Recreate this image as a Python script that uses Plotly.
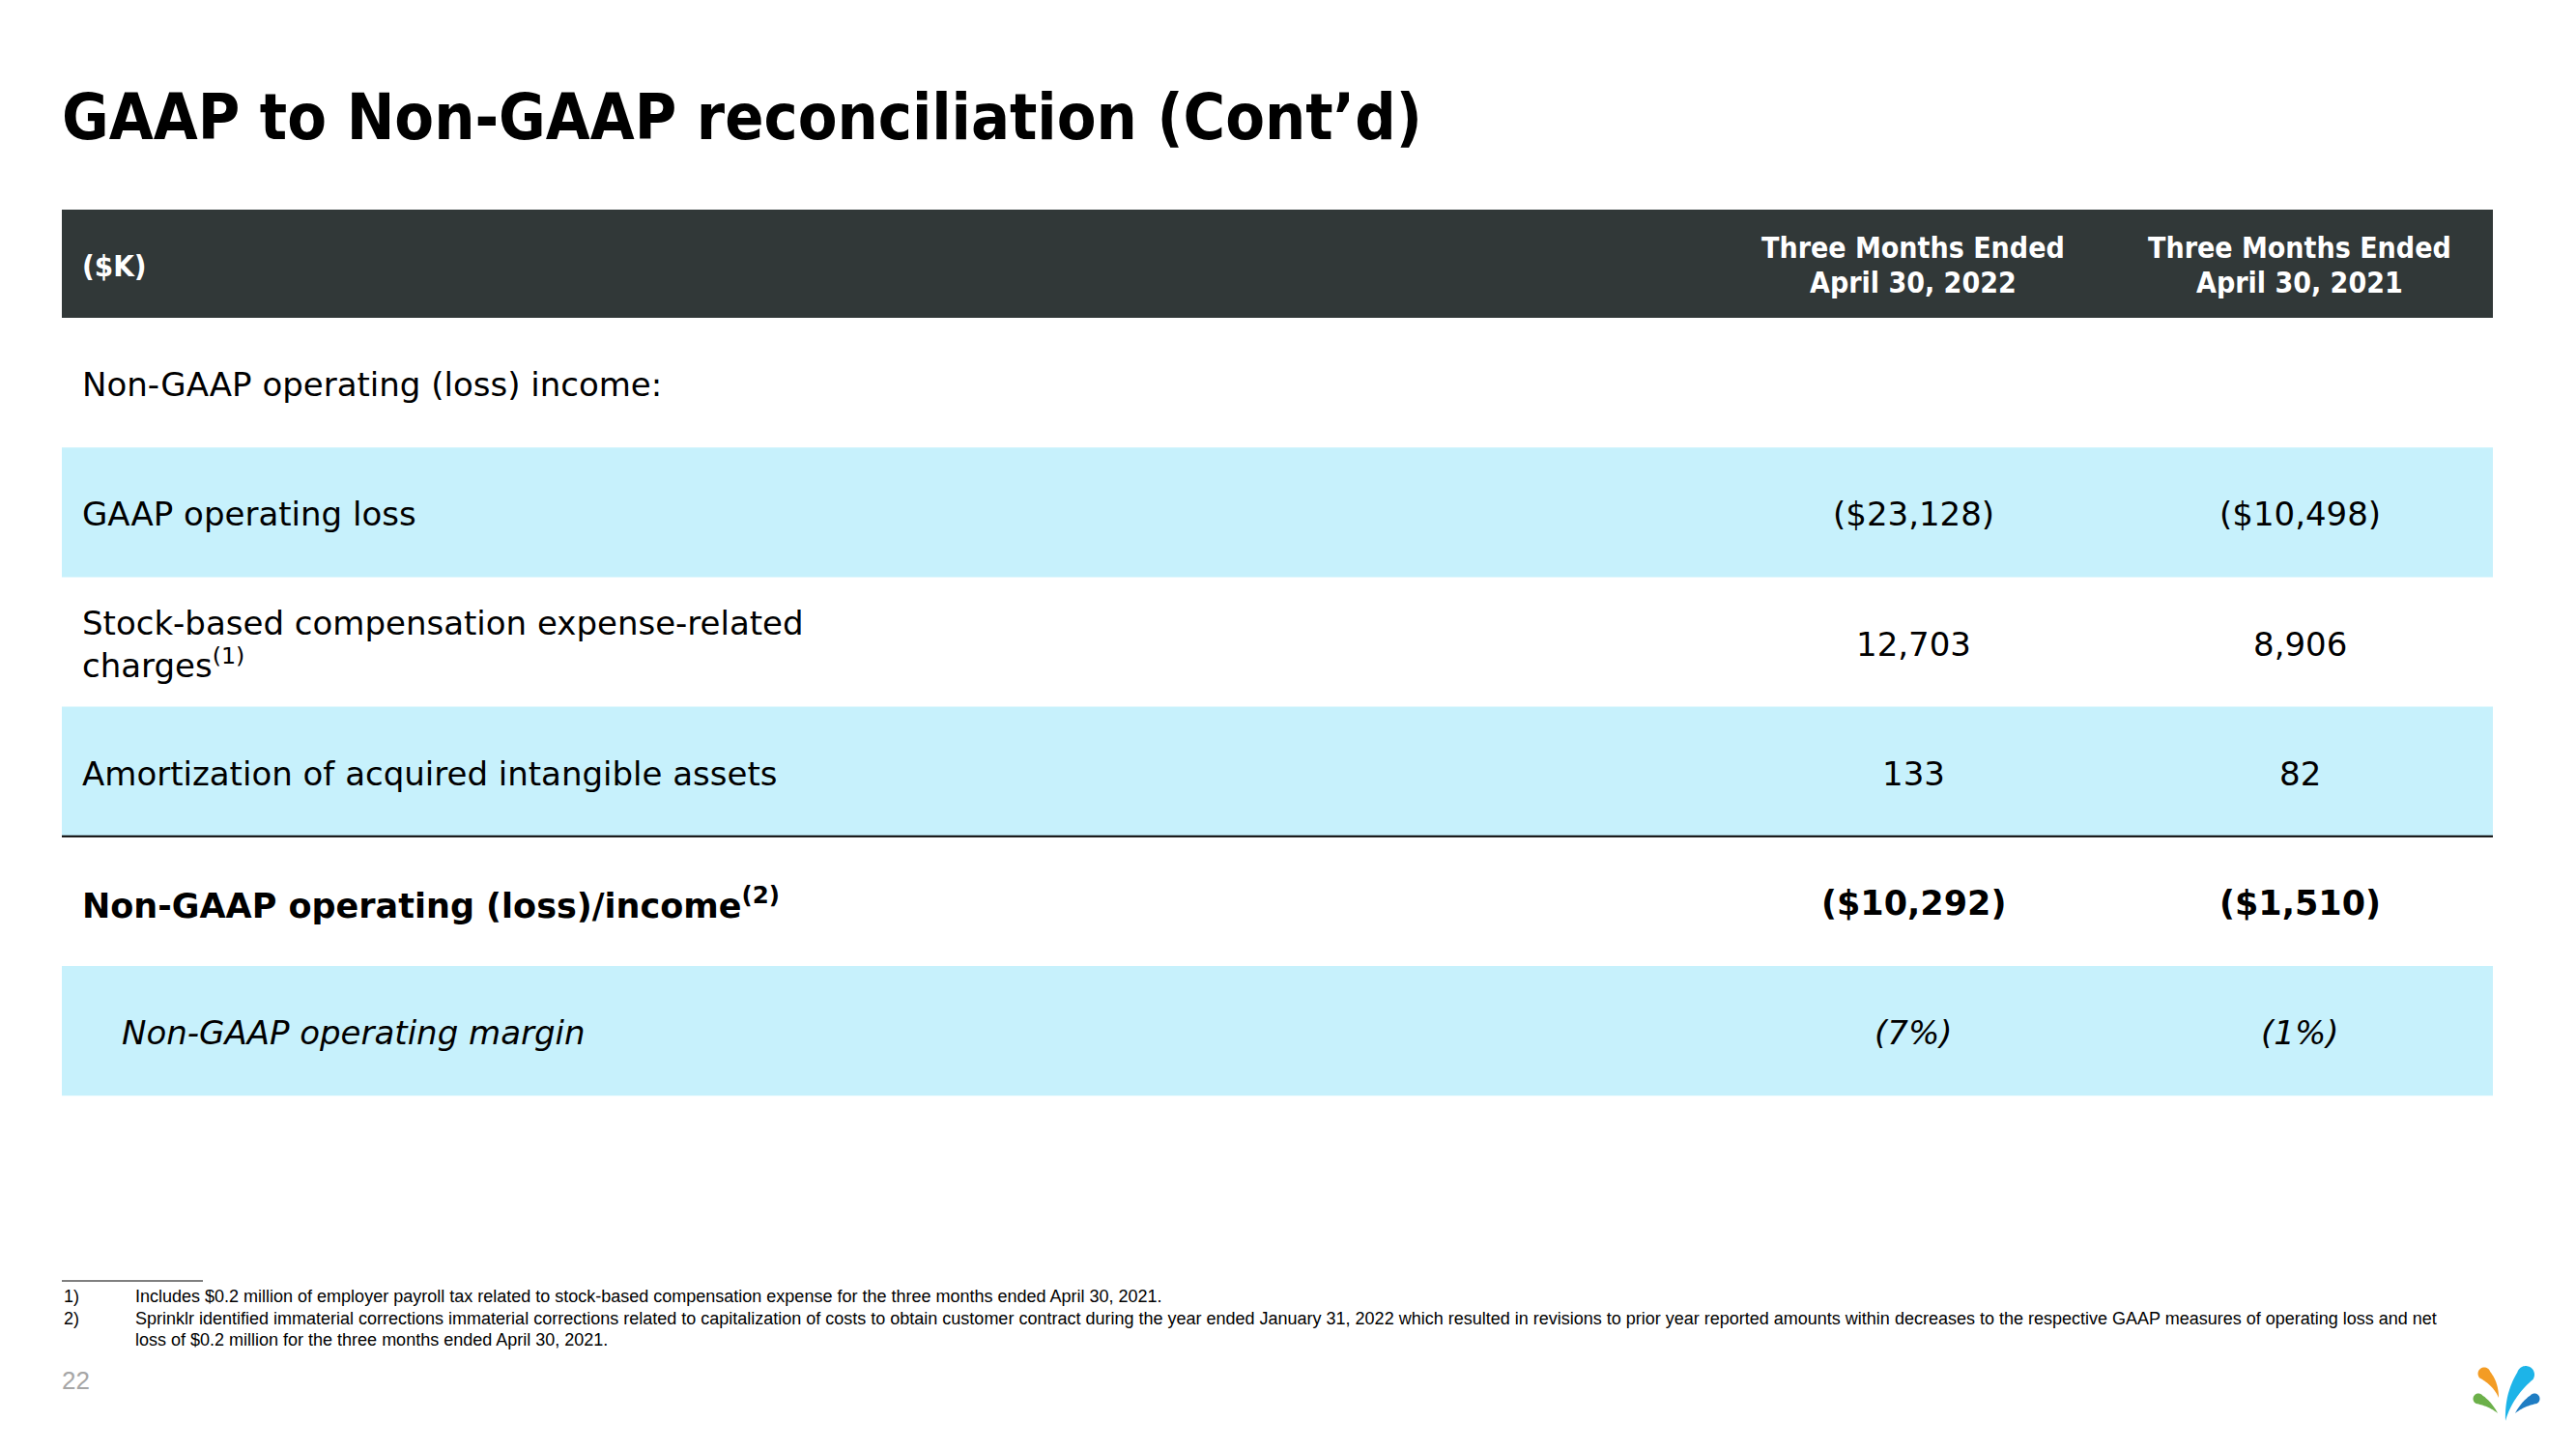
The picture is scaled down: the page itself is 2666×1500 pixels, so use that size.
import math
import plotly.graph_objects as go

# ---------------- data ----------------
title_text = "GAAP to Non-GAAP reconciliation (Cont’d)"
unit_label = "($K)"
period_headers = [
    ["Three Months Ended", "April 30, 2022"],
    ["Three Months Ended", "April 30, 2021"],
]
row_labels = [
    "Non-GAAP operating (loss) income:",
    "GAAP operating loss",
    "Stock-based compensation expense-related<br>charges<sup>(1)</sup>",
    "Amortization of acquired intangible assets",
    "Non-GAAP operating (loss)/income<sup>(2)</sup>",
    "Non-GAAP operating margin",
]
# values in $K (None = no value); margin in %
values_2022 = [None, -23128, 12703, 133, -10292, -7]
values_2021 = [None, -10498, 8906, 82, -1510, -1]
value_kind = ["none", "usd", "num", "num", "usd", "pct"]
footnote_nums = ["1)", "2)", ""]
footnote_lines = [
    "Includes $0.2 million of employer payroll tax related to stock-based compensation expense for the three months ended April 30, 2021.",
    "Sprinklr identified immaterial corrections immaterial corrections related to capitalization of costs to obtain customer contract during the year ended January 31, 2022 which resulted in revisions to prior year reported amounts within decreases to the respective GAAP measures of operating loss and net",
    "loss of $0.2 million for the three months ended April 30, 2021.",
]
page_number = "22"

# ---------------- styles / layout ----------------
W, H = 2666, 1500
BODY_FONT = "'DejaVu Sans', sans-serif"
COND_FONT = "'DejaVu Sans Condensed', 'DejaVu Sans', sans-serif"
NOTE_FONT = "'Liberation Sans Narrow', 'Liberation Sans', Arial, sans-serif"
HEADER_BG = "#313838"
BLUE_BG = "#C7F1FC"
X_LEFT, X_RIGHT = 64, 2580
HEADER_TOP, HEADER_BOTTOM = 217, 329
ROW_H = 134.2
LABEL_X, INDENT_X = 83, 124
COL_X = [1980, 2380]
row_fill = ["white", BLUE_BG, "white", BLUE_BG, "white", BLUE_BG]
row_weight = ["normal", "normal", "normal", "normal", "bold", "normal"]
row_italic = [False, False, False, False, False, True]
BODY_SIZE = 34
BOLD_SIZE = 35


def fmt(v, kind):
    if v is None or kind == "none":
        return ""
    if kind == "usd":
        s = "${:,}".format(abs(v))
    elif kind == "pct":
        s = "{}%".format(abs(v))
    else:
        s = "{:,}".format(abs(v))
    return "({})".format(s) if v < 0 else s


fig = go.Figure()
shapes = []
ann = []

# title
ann.append(dict(x=X_LEFT - 2, y=121, text="<b>" + title_text + "</b>", xanchor="left",
                yanchor="middle", font=dict(family=COND_FONT, size=66, color="black")))

# header band
shapes.append(dict(type="rect", x0=X_LEFT, x1=X_RIGHT, y0=HEADER_TOP, y1=HEADER_BOTTOM,
                   fillcolor=HEADER_BG, line=dict(width=0), layer="below"))
ann.append(dict(x=LABEL_X, y=275, text="<b>" + unit_label + "</b>", xanchor="left",
                yanchor="middle", font=dict(family=COND_FONT, size=31, color="white")))
for cx, lines in zip(COL_X, period_headers):
    for ly, line in zip([256, 292], lines):
        ann.append(dict(x=cx, y=ly, text="<b>" + line + "</b>", xanchor="center",
                        yanchor="middle", font=dict(family=COND_FONT, size=30, color="white")))

# rows
for i, label in enumerate(row_labels):
    y0 = HEADER_BOTTOM + i * ROW_H
    y1 = y0 + ROW_H
    yc = (y0 + y1) / 2 + 2
    if row_fill[i] != "white":
        shapes.append(dict(type="rect", x0=X_LEFT, x1=X_RIGHT, y0=y0, y1=y1,
                           fillcolor=row_fill[i], line=dict(width=0), layer="below"))

    bold = row_weight[i] == "bold"
    size = BOLD_SIZE if bold else BODY_SIZE

    def styled(t):
        if bold:
            t = "<b>" + t + "</b>"
        if row_italic[i]:
            t = "<i>" + t + "</i>"
        return t

    lx = INDENT_X if row_italic[i] else LABEL_X
    ann.append(dict(x=lx, y=yc, text=styled(label), xanchor="left", yanchor="middle",
                    align="left", font=dict(family=BODY_FONT, size=size, color="black")))
    for cx, vals in zip(COL_X, [values_2022, values_2021]):
        t = fmt(vals[i], value_kind[i])
        if t:
            ann.append(dict(x=cx, y=yc, text=styled(t), xanchor="center", yanchor="middle",
                            font=dict(family=BODY_FONT, size=size, color="black")))

# rule above total row
y_rule = HEADER_BOTTOM + 4 * ROW_H
shapes.append(dict(type="line", x0=X_LEFT, x1=X_RIGHT, y0=y_rule, y1=y_rule,
                   line=dict(color="black", width=2)))

# footnotes
shapes.append(dict(type="line", x0=X_LEFT, x1=210, y0=1326, y1=1326,
                   line=dict(color="black", width=1)))
for k, (num, line) in enumerate(zip(footnote_nums, footnote_lines)):
    fy = 1342 + k * 22.5
    if num:
        ann.append(dict(x=X_LEFT, y=fy, text=num, xanchor="left", yanchor="middle",
                        font=dict(family=NOTE_FONT, size=18, color="black")))
    ann.append(dict(x=138, y=fy, text=line, xanchor="left", yanchor="middle",
                    font=dict(family=NOTE_FONT, size=18, color="black")))

# page number
ann.append(dict(x=X_LEFT - 2, y=1429, text=page_number, xanchor="left", yanchor="middle",
                font=dict(family=NOTE_FONT, size=26, color="#A6A6A6")))


# logo (decorative drops)
def drop_path(head, r, tail, bend):
    hx, hy = head
    tx, ty = tail
    dx, dy = hx - tx, hy - ty
    L = math.hypot(dx, dy)
    ux, uy = dx / L, dy / L
    nx, ny = -uy, ux
    beta = math.acos(r / L)
    a0 = math.atan2(-uy, -ux)
    pts = []
    pa = (hx + r * math.cos(a0 + beta), hy + r * math.sin(a0 + beta))
    pb = (hx + r * math.cos(a0 - beta), hy + r * math.sin(a0 - beta))
    n = 20
    for j in range(n + 1):
        s = j / n
        off = bend * 4 * s * (1 - s)
        pts.append((tx + (pa[0] - tx) * s + nx * off, ty + (pa[1] - ty) * s + ny * off))
    for j in range(1, 31):
        a = a0 + beta + (2 * math.pi - 2 * beta) * j / 30
        pts.append((hx + r * math.cos(a), hy + r * math.sin(a)))
    for j in range(1, n + 1):
        s = 1 - j / n
        off = bend * 4 * s * (1 - s)
        pts.append((tx + (pb[0] - tx) * s + nx * off, ty + (pb[1] - ty) * s + ny * off))
    return "M " + " L ".join("{:.2f},{:.2f}".format(px, py) for px, py in pts) + " Z"


logo = [
    ((2571, 1422), 6.5, (2586, 1447), 2.5, "#F39C24"),
    ((2614, 1423), 9.0, (2593, 1471), -4.0, "#1DB4E8"),
    ((2565, 1448), 5.5, (2585, 1463), 1.5, "#6CB04A"),
    ((2623, 1448), 5.5, (2603, 1463), -1.5, "#1F7DC3"),
]
for head, r, tail, bend, col in logo:
    shapes.append(dict(type="path", path=drop_path(head, r, tail, bend), fillcolor=col,
                       line=dict(width=0)))

fig.update_layout(
    width=W, height=H,
    margin=dict(l=0, r=0, t=0, b=0),
    paper_bgcolor="white", plot_bgcolor="white",
    xaxis=dict(range=[0, W], visible=False, fixedrange=True),
    yaxis=dict(range=[H, 0], visible=False, fixedrange=True),
    shapes=shapes, annotations=ann, showlegend=False,
)
for a in fig.layout.annotations:
    a.showarrow = False
    a.xref = "x"
    a.yref = "y"
for s in fig.layout.shapes:
    s.xref = "x"
    s.yref = "y"

fig.write_html("out.html", config={"displayModeBar": False},
               post_script="document.body.style.margin='0';document.body.style.overflow='hidden';")
